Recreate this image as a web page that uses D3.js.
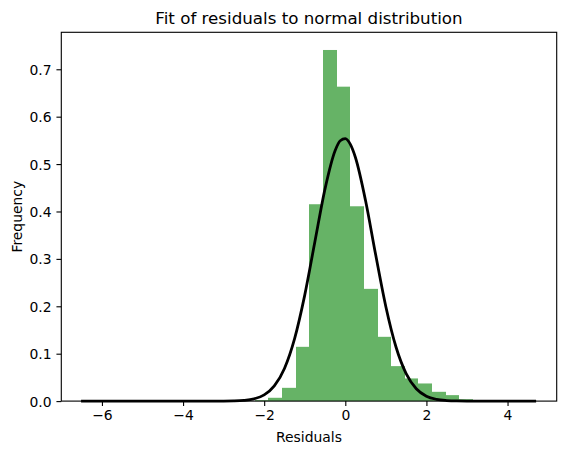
<!DOCTYPE html>
<html>
<head>
<meta charset="utf-8">
<script src="https://cdn.jsdelivr.net/npm/d3@7"></script>
<style>
  html, body { margin: 0; padding: 0; background: #fff; }
  svg { display: block; font-family: "DejaVu Sans", sans-serif; }
</style>
</head>
<body>
<svg id="chart" width="567" height="455"></svg>
<script>
// ---- data ----
const binWidth = 0.3365;
const binLefts = [-2.235, -1.898, -1.562, -1.225, -0.889, -0.552, -0.216, 0.121, 0.457, 0.794, 1.130, 1.467, 1.804, 2.140, 2.477, 2.813, 3.150, 3.486];
const binHeights = [0.002, 0.007, 0.028, 0.1145, 0.4153, 0.7407, 0.6633, 0.411, 0.2368, 0.1356, 0.0738, 0.0478, 0.0372, 0.0196, 0.0126, 0.004, 0.002, 0.001];

const curveX = [-6.48, -3.5, -3.0, -2.75, -2.5, -2.25, -2.0, -1.75, -1.5, -1.25, -1.0, -0.75, -0.5, -0.25, -0.125, 0.0, 0.125, 0.25, 0.5, 0.75, 1.0, 1.25, 1.5, 1.75, 2.0, 2.25, 2.5, 2.75, 3.0, 3.5, 4.67];
const curveY = [0.0, 0.0, 0.0001, 0.0004, 0.0015, 0.0048, 0.0131, 0.032, 0.0689, 0.1319, 0.2236, 0.3361, 0.4478, 0.5288, 0.5493, 0.5536, 0.5414, 0.5138, 0.4226, 0.3081, 0.1991, 0.1141, 0.058, 0.0261, 0.0104, 0.0037, 0.0012, 0.0003, 0.0001, 0.0, 0.0];

const xTicks = [-6, -4, -2, 0, 2, 4];
const yTicks = [0.0, 0.1, 0.2, 0.3, 0.4, 0.5, 0.6, 0.7];

const titleText = "Fit of residuals to normal distribution";
const xLabelText = "Residuals";
const yLabelText = "Frequency";

// ---- layout ----
const L = 61.3, R = 556.7, T = 32.3, B = 401.1;
const svg = d3.select("#chart");

const x = d3.scaleLinear().domain([-7.002, 5.212]).range([L, R]);
const y = d3.scaleLinear().domain([0, 0.778]).range([B, T]);

// bars: each bar ends where the next begins, edges rounded to whole pixels
const bars = binLefts.map((l, i) => ({
  l,
  r: i < binLefts.length - 1 ? binLefts[i + 1] : l + binWidth,
  h: binHeights[i]
}));
svg.append("g")
  .selectAll("rect")
  .data(bars)
  .join("rect")
  .attr("x", d => Math.round(x(d.l)))
  .attr("width", d => Math.round(x(d.r)) - Math.round(x(d.l)))
  .attr("y", d => y(d.h))
  .attr("height", d => y(0) - y(d.h))
  .attr("fill", "green")
  .attr("fill-opacity", 0.6);

// pdf line
const line = d3.line()
  .x(d => x(d[0]))
  .y(d => y(d[1]))
  .curve(d3.curveMonotoneX);
svg.append("path")
  .datum(curveX.map((v, i) => [v, curveY[i]]))
  .attr("d", line)
  .attr("fill", "none")
  .attr("stroke", "black")
  .attr("stroke-width", 2.78)
  .attr("stroke-linejoin", "round")
  .attr("stroke-linecap", "square");

const minus = s => s.replace("-", "\u2212");

// axes
const xAxis = d3.axisBottom(x).tickValues(xTicks).tickSize(4.86).tickPadding(4.5)
  .tickFormat(d => minus(d3.format("d")(d)));
const gx = svg.append("g").attr("transform", `translate(0,${B})`).call(xAxis);
gx.select(".domain").remove();
gx.selectAll(".tick line").attr("stroke", "black").attr("stroke-width", 1.11);
gx.selectAll(".tick text").attr("font-size", "13.9px").attr("fill", "black")
  .attr("font-family", "DejaVu Sans").attr("dy", "0.72em");

const yAxis = d3.axisLeft(y).tickValues(yTicks).tickSize(4.86).tickPadding(4.86)
  .tickFormat(d3.format(".1f"));
const gy = svg.append("g").attr("transform", `translate(${L},0)`).call(yAxis);
gy.select(".domain").remove();
gy.selectAll(".tick line").attr("stroke", "black").attr("stroke-width", 1.11);
gy.selectAll(".tick text").attr("font-size", "13.9px").attr("fill", "black")
  .attr("font-family", "DejaVu Sans").attr("dy", "0.36em");

// frame
svg.append("rect")
  .attr("x", L).attr("y", T).attr("width", R - L).attr("height", B - T)
  .attr("fill", "none").attr("stroke", "black").attr("stroke-width", 1.11);

// title & labels
svg.append("text").attr("x", (L + R) / 2).attr("y", 24)
  .attr("text-anchor", "middle").attr("font-size", "16.7px").attr("fill", "black")
  .text(titleText);
svg.append("text").attr("x", (L + R) / 2).attr("y", 442)
  .attr("text-anchor", "middle").attr("font-size", "13.9px").attr("fill", "black")
  .text(xLabelText);
svg.append("text")
  .attr("transform", `translate(22,${(T + B) / 2}) rotate(-90)`)
  .attr("text-anchor", "middle").attr("font-size", "13.9px").attr("fill", "black")
  .text(yLabelText);
</script>
</body>
</html>
